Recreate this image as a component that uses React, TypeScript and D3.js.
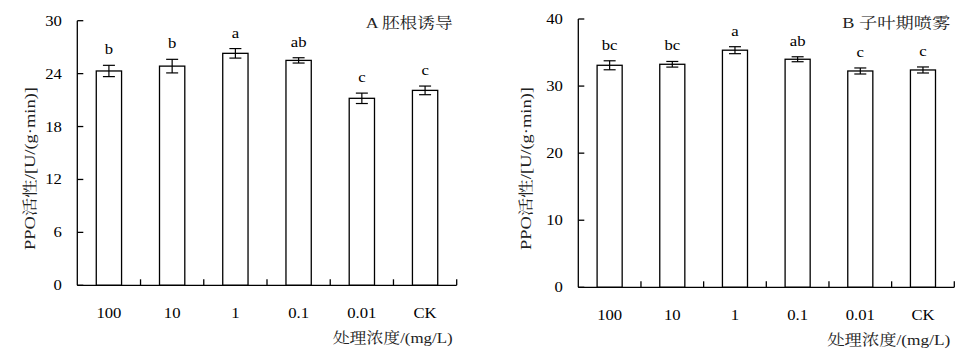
import React from "react";
import * as d3 from "d3";

const categories = ["100", "10", "1", "0.1", "0.01", "CK"];
const aMeans = [24.3, 24.85, 26.3, 25.5, 21.2, 22.1];
const aErr = [0.64, 0.77, 0.54, 0.3, 0.59, 0.49];
const aLetters = ["b", "b", "a", "ab", "c", "c"];
const aTicks = [0, 6, 12, 18, 24, 30];
const bMeans = [33.1, 33.25, 35.35, 34.0, 32.25, 32.4];
const bErr = [0.67, 0.42, 0.52, 0.37, 0.45, 0.45];
const bLetters = ["bc", "bc", "a", "ab", "c", "c"];
const bTicks = [0, 10, 20, 30, 40];
const yLabel = "PPO活性/[U/(g·min)]";
const xLabel = "处理浓度/(mg/L)";

const FONT = "'Liberation Serif', 'Times New Roman', 'Noto Serif CJK SC', 'Noto Sans CJK SC', serif";

type PanelProps = {
  x0: number; x1: number; yTop: number; yBot: number; yMax: number;
  means: number[]; errs: number[]; letters: string[]; ticks: number[];
  title: string; titleLen: number; xTitleLen: number; yLabelX: number;
};

function Panel(p: PanelProps) {
  const x = d3.scaleBand<string>().domain(categories).range([p.x0, p.x1]).padding(0);
  const y = d3.scaleLinear().domain([0, p.yMax]).range([p.yBot, p.yTop]);
  const bw = x.bandwidth() * 0.4;
  const cap = 6;
  const sx = 1.15;
  const fs = 14.5;
  const bounds = categories.map((c) => x(c)!).concat([p.x1]).slice(1);
  const yMid = (87 + 250) / 2;
  return (
    <g fontFamily={FONT} fill="#000">
      {/* bars */}
      {categories.map((c, i) => {
        const cx = x(c)! + x.bandwidth() / 2;
        return (
          <rect key={"b" + c} x={cx - bw / 2} y={y(p.means[i])} width={bw}
            height={p.yBot - y(p.means[i])} fill="#fff" stroke="#000" strokeWidth={1.3} />
        );
      })}
      {/* error bars */}
      {categories.map((c, i) => {
        const cx = x(c)! + x.bandwidth() / 2;
        const hi = y(p.means[i] + p.errs[i]);
        const lo = y(p.means[i] - p.errs[i]);
        return (
          <g key={"e" + c} stroke="#000" strokeWidth={1.2}>
            <line x1={cx} x2={cx} y1={hi} y2={lo} />
            <line x1={cx - cap} x2={cx + cap} y1={hi} y2={hi} />
            <line x1={cx - cap} x2={cx + cap} y1={lo} y2={lo} />
          </g>
        );
      })}
      {/* letters */}
      {categories.map((c, i) => {
        const cx = x(c)! + x.bandwidth() / 2;
        const ty = y(p.means[i] + p.errs[i]) - 11;
        return (
          <text key={"l" + c} transform={`translate(${cx},${ty}) scale(${sx},1)`}
            textAnchor="middle" fontSize={fs}>{p.letters[i]}</text>
        );
      })}
      {/* axes */}
      <line x1={p.x0} x2={p.x0} y1={p.yTop} y2={p.yBot} stroke="#000" strokeWidth={1.3} />
      <line x1={p.x0} x2={p.x1} y1={p.yBot} y2={p.yBot} stroke="#000" strokeWidth={1.3} />
      {p.ticks.map((t) => (
        <g key={"yt" + t}>
          <line x1={p.x0} x2={p.x0 + 6} y1={y(t)} y2={y(t)} stroke="#000" strokeWidth={1.3} />
          <text transform={`translate(${p.x0 - 15.5},${y(t) + 5}) scale(${sx},1)`}
            textAnchor="end" fontSize={fs}>{t}</text>
        </g>
      ))}
      {bounds.map((bx, i) => (
        <line key={"xt" + i} x1={bx} x2={bx} y1={p.yBot} y2={p.yBot - 6} stroke="#000" strokeWidth={1.3} />
      ))}
      {categories.map((c) => (
        <text key={"xl" + c} transform={`translate(${x(c)! + x.bandwidth() / 2},${p.yBot + 33}) scale(${sx},1)`}
          textAnchor="middle" fontSize={fs}>{c}</text>
      ))}
      {/* titles */}
      <text x={p.x1 - 4 - p.titleLen} y={28} fontSize={14.5} textLength={p.titleLen}
        lengthAdjust="spacingAndGlyphs" fill="#222">{p.title}</text>
      <text x={p.x1 - 4 - p.xTitleLen} y={p.yBot + 58} fontSize={14.5} textLength={p.xTitleLen}
        lengthAdjust="spacingAndGlyphs" fill="#222">{xLabel}</text>
      <text transform={`translate(${p.yLabelX},${yMid}) rotate(-90)`} textAnchor="middle"
        dominantBaseline="central" fontSize={14.5} textLength={163}
        lengthAdjust="spacingAndGlyphs" fill="#222">{yLabel}</text>
    </g>
  );
}

export default function App() {
  return (
    <svg width={974} height={356} style={{ position: "absolute", left: 0, top: 0, background: "#fff" }}>
      <rect x={0} y={0} width={974} height={356} fill="#fff" />
      <Panel x0={77.3} x1={456.7} yTop={20.7} yBot={285.3} yMax={30}
        means={aMeans} errs={aErr} letters={aLetters} ticks={aTicks}
        title="A 胚根诱导" titleLen={87} xTitleLen={120} yLabelX={30} />
      <Panel x0={578.3} x1={954.3} yTop={19} yBot={287.3} yMax={40}
        means={bMeans} errs={bErr} letters={bLetters} ticks={bTicks}
        title="B 子叶期喷雾" titleLen={108} xTitleLen={123} yLabelX={526} />
    </svg>
  );
}
